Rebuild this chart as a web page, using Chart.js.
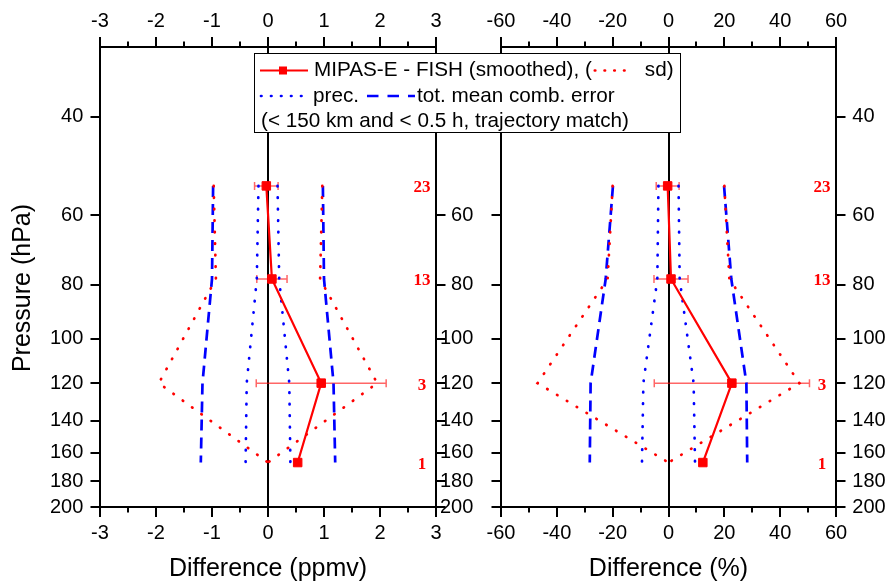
<!DOCTYPE html>
<html>
<head>
<meta charset="utf-8">
<script src="https://cdn.jsdelivr.net/npm/chart.js@4.4.1/dist/chart.umd.min.js"></script>
<style>
  html, body { margin: 0; padding: 0; background: #fff; }
  #wrap { position: relative; width: 888px; height: 584px; }
  #wrap canvas { position: absolute; left: 0; top: 0; }
</style>
</head>
<body>
<div id="wrap">
  <canvas id="left" width="888" height="584"></canvas>
  <canvas id="right" width="888" height="584"></canvas>
</div>
<script>
// pressure levels of the matched profiles (hPa) and number of matches
const pressure = [53.2, 78.1, 120, 166.5];
const counts = ['23', '13', '3', '1'];

// ppmv panel
const diffPpmv = [-0.03, 0.07, 0.95, 0.53];
const errPpmv = [0.21, 0.27, 1.16, 0];
const sdPpmv = [0.97, 0.93, 1.95, 0];
const totPpmv = [0.98, 1.0, 1.17, 1.2];
const precPpmv = [0.17, 0.2, 0.38, 0.4];

// percent panel
const diffPct = [-0.3, 0.9, 22.7, 12.3];
const errPct = [4.1, 6.1, 27.8, 0];
const sdPct = [20.0, 21.8, 46.9, 0];
const totPct = [19.9, 22.5, 27.9, 28.2];
const precPct = [3.6, 4.0, 9.0, 9.5];

// tick labels
const pressureTicks = [40, 60, 80, 100, 120, 140, 160, 180, 200];
const ppmvTicks = [-3, -2, -1, 0, 1, 2, 3];
const pctTicks = [-60, -40, -20, 0, 20, 40, 60];

const FONT = "'Liberation Sans', Arial, Helvetica, sans-serif";
const SERIF = "'Liberation Serif', 'Times New Roman', serif";
const RED = '#ff0000';
const BLUE = '#0000ff';
Chart.defaults.font.family = FONT;
Chart.defaults.color = '#000';

const pts = (vals, sign) => vals.map((v, i) => ({ x: sign * v, y: pressure[i] }));

function makeDatasets(diff, sd, tot, prec) {
  const dotted = (color) => ({
    borderColor: color, borderWidth: 2.7, borderDash: [0.5, 11],
    borderCapStyle: 'round', pointRadius: 0, fill: false
  });
  const dashed = { borderColor: BLUE, borderWidth: 2.7, borderDash: [11, 7], pointRadius: 0, fill: false };
  return [
    {
      data: pts(diff, 1), borderColor: RED, backgroundColor: RED, borderWidth: 2.2,
      pointStyle: 'rect', pointRadius: 6, pointBorderWidth: 1,
      pointBackgroundColor: RED, pointBorderColor: RED
    },
    { data: pts(sd, 1), ...dotted(RED) },
    { data: pts(sd, -1), ...dotted(RED) },
    { data: pts(prec, 1), ...dotted(BLUE) },
    { data: pts(prec, -1), ...dotted(BLUE) },
    { data: pts(tot, 1), ...dashed },
    { data: pts(tot, -1), ...dashed }
  ];
}

function strokeLine(ctx, x0, y0, x1, y1, color, width, dash, cap) {
  ctx.save();
  ctx.strokeStyle = color;
  ctx.lineWidth = width;
  ctx.setLineDash(dash || []);
  ctx.lineCap = cap || 'butt';
  ctx.beginPath();
  ctx.moveTo(x0, y0);
  ctx.lineTo(x1, y1);
  ctx.stroke();
  ctx.restore();
}

function drawLegend(ctx) {
  const L = 254, T = 53, W = 426, H = 79;
  ctx.save();
  ctx.fillStyle = '#fff';
  ctx.fillRect(L, T, W, H);
  ctx.strokeStyle = '#000';
  ctx.lineWidth = 1;
  ctx.strokeRect(L + 0.5, T + 0.5, W, H);
  ctx.font = '20.7px ' + FONT;
  ctx.textBaseline = 'middle';
  ctx.textAlign = 'left';

  let y = 70.5;
  strokeLine(ctx, 260, y, 308, y, RED, 2);
  ctx.fillStyle = RED;
  ctx.fillRect(279, y - 4, 8, 8);
  ctx.fillStyle = '#000';
  const t1 = 'MIPAS-E - FISH (smoothed), (';
  ctx.fillText(t1, 314, y);
  let x = 314 + ctx.measureText(t1).width;
  strokeLine(ctx, x + 3, y, x + 42, y, RED, 2.7, [0.5, 9.25], 'round');
  ctx.fillText('sd)', x + 53, y);

  y = 96;
  strokeLine(ctx, 261, y, 301.5, y, BLUE, 2.7, [0.5, 9.5], 'round');
  ctx.fillText('prec.', 313, y);
  x = 313 + ctx.measureText('prec.').width;
  strokeLine(ctx, x + 8, y, x + 56, y, BLUE, 2.7, [11.5, 9]);
  ctx.fillText('tot. mean comb. error', x + 58, y);

  ctx.fillText('(< 150 km and < 0.5 h, trajectory match)', 261, 121.5);
  ctx.restore();
}

function panelPlugin(p) {
  return {
    id: 'panelExtras',
    beforeDatasetsDraw(chart) {
      const ctx = chart.ctx;
      const xs = chart.scales.x, ys = chart.scales.y;
      ctx.save();
      ctx.strokeStyle = 'rgba(255,0,0,0.6)';
      ctx.lineWidth = 1.5;
      p.diff.forEach((d, i) => {
        const e = p.err[i];
        if (!e) return;
        const y = ys.getPixelForValue(pressure[i]);
        const x0 = xs.getPixelForValue(d - e), x1 = xs.getPixelForValue(d + e);
        ctx.beginPath();
        ctx.moveTo(x0, y); ctx.lineTo(x1, y);
        ctx.moveTo(x0, y - 4); ctx.lineTo(x0, y + 4);
        ctx.moveTo(x1, y - 4); ctx.lineTo(x1, y + 4);
        ctx.stroke();
      });
      ctx.restore();
    },
    afterDatasetsDraw(chart) {
      const ctx = chart.ctx;
      const xs = chart.scales.x, ys = chart.scales.y;
      ctx.save();
      ctx.font = 'bold 17px ' + SERIF;
      ctx.fillStyle = RED;
      ctx.textAlign = 'center';
      ctx.textBaseline = 'middle';
      counts.forEach((c, i) => {
        ctx.fillText(c, xs.getPixelForValue(p.countX), ys.getPixelForValue(pressure[i]) + 2);
      });
      ctx.restore();
    },
    afterDraw(chart) {
      const ctx = chart.ctx;
      const a = chart.chartArea;
      ctx.save();
      ctx.strokeStyle = '#000';
      ctx.lineWidth = 2;
      ctx.beginPath();
      // x ticks, major and minor, pointing outwards
      ['x', 'x2'].forEach((id) => {
        const s = chart.scales[id];
        const top = id === 'x2';
        const edge = top ? a.top : a.bottom;
        const dir = top ? -1 : 1;
        const vals = s.ticks.map((t) => t.value);
        vals.forEach((v, i) => {
          const px = Math.round(s.getPixelForValue(v));
          ctx.moveTo(px, edge); ctx.lineTo(px, edge + dir * 10);
          if (i < vals.length - 1) {
            const m = Math.round(s.getPixelForValue((v + vals[i + 1]) / 2));
            ctx.moveTo(m, edge); ctx.lineTo(m, edge + dir * 5.5);
          }
        });
      });
      // y ticks on both sides
      const ys = chart.scales.y;
      pressureTicks.forEach((v) => {
        const py = Math.round(ys.getPixelForValue(v));
        ctx.moveTo(a.left, py); ctx.lineTo(a.left - 9.5, py);
        ctx.moveTo(a.right, py); ctx.lineTo(a.right + 9.5, py);
      });
      ctx.stroke();
      ctx.restore();

      if (p.yTitle) {
        ctx.save();
        ctx.translate(23, 288);
        ctx.rotate(-Math.PI / 2);
        ctx.font = '25px ' + FONT;
        ctx.fillStyle = '#000';
        ctx.textAlign = 'center';
        ctx.textBaseline = 'middle';
        ctx.fillText('Pressure (hPa)', 0, 0);
        ctx.restore();
      }
      if (p.legend) drawLegend(ctx);
    }
  };
}

function panelConfig(p) {
  const xTicks = p.xTicks;
  const xmin = xTicks[0], xmax = xTicks[xTicks.length - 1];
  const border = { display: true, color: '#000', width: 2 };
  const tickFont = { size: 20 };
  return {
    type: 'line',
    data: { datasets: makeDatasets(p.diff, p.sd, p.tot, p.prec) },
    options: {
      responsive: false,
      animation: false,
      devicePixelRatio: 1,
      events: [],
      layout: { padding: 0, autoPadding: false },
      plugins: { legend: { display: false }, tooltip: { enabled: false } },
      scales: {
        x: {
          type: 'linear', position: 'bottom', min: xmin, max: xmax,
          afterBuildTicks: (s) => { s.ticks = xTicks.map((v) => ({ value: v })); },
          ticks: { autoSkip: false, maxRotation: 0, padding: 14, font: tickFont },
          grid: {
            display: true, drawTicks: false, lineWidth: 2,
            color: (c) => (c.tick && c.tick.value === 0 ? '#000' : 'rgba(0,0,0,0)')
          },
          border,
          title: { display: true, text: p.xTitle, font: { size: 25 }, padding: 0 },
          afterFit: (s) => { s.height = 77; }
        },
        x2: {
          type: 'linear', position: 'top', min: xmin, max: xmax,
          afterBuildTicks: (s) => { s.ticks = xTicks.map((v) => ({ value: v })); },
          ticks: { autoSkip: false, maxRotation: 0, padding: 13.3, font: tickFont },
          grid: { display: false, drawTicks: false },
          border,
          afterFit: (s) => { s.height = 47; }
        },
        y: {
          type: 'logarithmic', position: 'left', min: 30, max: 200, reverse: true,
          afterBuildTicks: (s) => { s.ticks = pressureTicks.map((v) => ({ value: v })); },
          ticks: { autoSkip: false, padding: p.yPad, font: tickFont, callback: (v) => String(v) },
          grid: { display: false, drawTicks: false },
          border,
          afterFit: (s) => { s.width = p.yWidth; }
        },
        y2: {
          type: 'logarithmic', position: 'right', min: 30, max: 200, reverse: true,
          afterBuildTicks: (s) => { s.ticks = pressureTicks.map((v) => ({ value: v })); },
          ticks: { display: p.y2Labels, autoSkip: false, padding: 16.3, font: tickFont, callback: (v) => String(v) },
          grid: { display: false, drawTicks: false },
          border,
          afterFit: (s) => { s.width = p.y2Width; }
        }
      }
    },
    plugins: [panelPlugin(p)]
  };
}

new Chart(document.getElementById('left'), panelConfig({
  diff: diffPpmv, err: errPpmv, sd: sdPpmv, tot: totPpmv, prec: precPpmv,
  xTicks: ppmvTicks, xTitle: 'Difference (ppmv)', countX: 2.75,
  yWidth: 100, yPad: 16.7, y2Width: 452, y2Labels: false,
  yTitle: true, legend: false
}));

new Chart(document.getElementById('right'), panelConfig({
  diff: diffPct, err: errPct, sd: sdPct, tot: totPct, prec: precPct,
  xTicks: pctTicks, xTitle: 'Difference (%)', countX: 55,
  yWidth: 501, yPad: 27.7, y2Width: 52, y2Labels: true,
  yTitle: false, legend: true
}));
</script>
</body>
</html>
